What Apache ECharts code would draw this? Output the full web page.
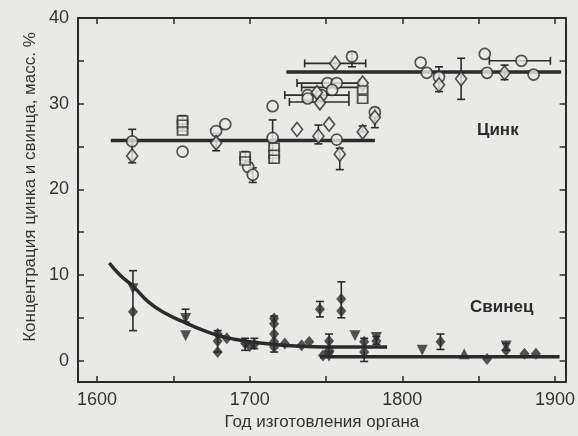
<!DOCTYPE html>
<html><head><meta charset="utf-8">
<script src="https://cdn.jsdelivr.net/npm/echarts@6/dist/echarts.min.js"></script>
<style>html,body{margin:0;padding:0;background:#e9e9e7;}#c{width:578px;height:436px;}</style>
</head><body><div id="c"></div>
<script>
// ---- tick labels ----
const xTickLabels = [1600, 1700, 1800, 1900];
const xTicks = [1600, 1650, 1700, 1750, 1800, 1850, 1900];
const yTickLabels = [0, 10, 20, 30, 40];
const yTicks = [0, 5, 10, 15, 20, 25, 30, 35, 40];

// ---- Zinc (Цинк), open markers ----
const zincCircles = [[1623,25.6],[1656,24.4],[1678,26.8],[1684,27.6],[1699,22.6],[1702,21.7],[1715,29.7],[1715,26.0],
  [1738,31.0],[1751,32.4],[1757,32.4],[1767,35.5],[1754,31.6],[1747,31.0],[1757,25.8],[1782,29.0],
  [1812,34.8],[1816,33.6],[1824,33.1],[1854,35.8],[1855.5,33.6],[1878,35.0],[1886,33.4],[1738,30.6]];
const zincDiamonds = [[1623,23.9],[1678,25.4],[1731,27.0],[1756,34.7],[1746,30.1],[1774,32.4],[1782,28.4],[1745,26.2],
  [1752,27.6],[1759,24.1],[1774,26.7],[1824,32.2],[1838.5,32.9],[1867,33.6],[1744,31.3]];
const zincSquares = [[1656,28.1],[1656,27.6],[1656,26.8],[1697,23.9],[1697,23.3],[1716,24.9],[1716,24.1],[1716,23.5],[1774,30.5],[1774,31.6]];
// vertical error bars: [x, low, high]
const zincErrY = [[1623,23.1,27.0],[1678,24.5,26.5],[1715,23.1,28.1],[1767,34.3,36.0],[1745,25.3,27.5],[1759,22.3,24.8],
  [1774,26.7,27.4],[1824,31.4,34.3],[1838.5,30.5,35.3],[1867,32.8,34.5],[1782,27.2,29.5],[1702,20.8,22.5],[1697,23.0,24.4],[1656,26.8,28.6]];
// horizontal error bars: [y, low, high]
const zincErrX = [[32.4,1731,1772],[31.9,1734,1774],[31.0,1723,1765],[30.2,1726,1765],[34.7,1736,1776],[35.0,1857,1897]];
// mean lines
const zincLineEarly = [[1609,25.7],[1782,25.7]];
const zincLineLate = [[1724,33.7],[1904,33.7]];

// ---- Lead (Свинец), filled markers ----
const leadDiamonds = [[1623.5,5.7],[1685,2.6],[1679,1.0],[1679,2.3],[1679,3.1],[1697,2.0],[1700,1.7],[1703,1.9],
  [1716,4.9],[1716,4.3],[1716,3.1],[1716,2.2],[1716,1.6],[1723,2.0],[1734,1.8],[1739,2.2],[1746,6.0],
  [1760,7.2],[1760,5.8],[1752,2.3],[1752,1.2],[1748,0.6],[1775,2.2],[1775,1.0],[1783,2.3],[1825,2.2],
  [1855.5,0.2],[1868,1.2],[1880,0.8],[1887.5,0.8]];
const leadTrianglesDown = [[1623.5,8.4],[1658,4.9],[1658,2.9],[1769,2.9],[1813,1.2],[1868,1.7],[1752,0.5],[1783,2.7]];
const leadTrianglesUp = [[1840.5,0.8]];
const leadErrY = [[1623.5,3.5,10.5],[1658,4.5,6.0],[1679,1.0,3.5],[1697,1.2,2.6],[1703,1.4,2.6],[1716,1.0,5.2],
  [1746,5.1,6.9],[1760,5.0,9.2],[1752,0.5,3.1],[1775,-0.1,2.6],[1783,1.9,2.8],[1825,1.3,3.1],[1868,1.2,2.0]];
// fitted decay curve and late mean line
const leadCurve = [[1608,11.4],[1615,10.0],[1624,8.6],[1634,6.8],[1645,5.5],[1658,4.4],[1670,3.5],[1680,2.9],
  [1690,2.5],[1700,2.2],[1715,1.9],[1730,1.7],[1750,1.6],[1770,1.6],[1790,1.6]];
const leadLineLate = [[1746,0.45],[1903,0.45]];

const INK = '#2b2b2b';
const BG = '#e9e9e7';

function errYRender(params, api) {
  const x = api.value(0), lo = api.value(1), hi = api.value(2);
  const a = api.coord([x, lo]), b = api.coord([x, hi]);
  const w = 4;
  const st = {stroke: INK, lineWidth: 1.6};
  return {type:'group', children:[
    {type:'line', shape:{x1:a[0],y1:a[1],x2:b[0],y2:b[1]}, style:st},
    {type:'line', shape:{x1:a[0]-w,y1:a[1],x2:a[0]+w,y2:a[1]}, style:st},
    {type:'line', shape:{x1:b[0]-w,y1:b[1],x2:b[0]+w,y2:b[1]}, style:st}
  ]};
}
function errXRender(params, api) {
  const y = api.value(0), lo = api.value(1), hi = api.value(2);
  const a = api.coord([lo, y]), b = api.coord([hi, y]);
  const w = 4;
  const st = {stroke: INK, lineWidth: 1.6};
  return {type:'group', children:[
    {type:'line', shape:{x1:a[0],y1:a[1],x2:b[0],y2:b[1]}, style:st},
    {type:'line', shape:{x1:a[0],y1:a[1]-w,x2:a[0],y2:a[1]+w}, style:st},
    {type:'line', shape:{x1:b[0],y1:b[1]-w,x2:b[0],y2:b[1]+w}, style:st}
  ]};
}

const lineSeries = (data, smooth) => ({type:'line', data, smooth: !!smooth, showSymbol:false, symbol:'none',
  lineStyle:{color:INK, width:3.5}, z:3, silent:true});
const openScatter = (data, symbol, size) => ({type:'scatter', data, symbol, symbolSize:size,
  itemStyle:{color:BG, borderColor:INK, borderWidth:1.7}, z:5});
const fillScatter = (data, symbol, size, rot) => ({type:'scatter', data, symbol, symbolSize:size, symbolRotate: rot||0,
  itemStyle:{color:INK}, z:5});

const axisFont = {fontFamily:'Liberation Sans, Arial, sans-serif', fontSize:18, color:'#333', formatter: v => String(v)};

const chart = echarts.init(document.getElementById('c'), null, {renderer:'canvas'});
chart.setOption({
  backgroundColor: BG,
  animation:false,
  grid:{left:78, right:11, top:18, bottom:53, containLabel:false},
  xAxis:[
    {type:'value', min:1587.5, max:1907, position:'bottom',
     axisLine:{show:true, onZero:false, lineStyle:{color:INK, width:2}},
     axisTick:{show:true, inside:true, length:6, customValues:xTicks, lineStyle:{color:INK, width:1.5}},
     axisLabel:{customValues:xTickLabels, margin:9, ...axisFont},
     splitLine:{show:false},
     name:'Год изготовления органа', nameLocation:'middle', nameGap:32,
     nameTextStyle:{fontFamily:'Liberation Sans, Arial, sans-serif', fontSize:17, color:'#333'}},
    {type:'value', min:1587.5, max:1907, position:'top',
     axisLine:{show:true, onZero:false, lineStyle:{color:INK, width:2}},
     axisTick:{show:true, inside:true, length:6, customValues:xTicks, lineStyle:{color:INK, width:1.5}},
     axisLabel:{show:false}, splitLine:{show:false}}
  ],
  yAxis:[
    {type:'value', min:-2.5, max:40, position:'left',
     axisLine:{show:true, onZero:false, lineStyle:{color:INK, width:2}},
     axisTick:{show:true, inside:true, length:6, customValues:yTicks, lineStyle:{color:INK, width:1.5}},
     axisLabel:{customValues:yTickLabels, margin:9, ...axisFont},
     splitLine:{show:false}},
    {type:'value', min:-2.5, max:40, position:'right',
     axisLine:{show:true, onZero:false, lineStyle:{color:INK, width:2}},
     axisTick:{show:true, inside:true, length:6, customValues:yTicks, lineStyle:{color:INK, width:1.5}},
     axisLabel:{show:false}, splitLine:{show:false}}
  ],
  graphic:[
    {type:'text', x:30, y:187, rotation:Math.PI/2, style:{text:'Концентрация цинка и свинца, масс. %',
      font:'17px "Liberation Sans", Arial, sans-serif', fill:'#333', align:'center', verticalAlign:'middle'}},
    {type:'text', x:477, y:130, style:{text:'Цинк', font:'bold 17px "Liberation Sans", Arial, sans-serif',
      fill:INK, align:'left', verticalAlign:'middle'}},
    {type:'text', x:470, y:307, style:{text:'Свинец', font:'bold 17px "Liberation Sans", Arial, sans-serif',
      fill:INK, align:'left', verticalAlign:'middle'}}
  ],
  series:[
    lineSeries(zincLineEarly), lineSeries(zincLineLate),
    lineSeries(leadCurve, 0.5), lineSeries(leadLineLate),
    {type:'custom', renderItem:errYRender, data:zincErrY, z:4, silent:true},
    {type:'custom', renderItem:errXRender, data:zincErrX, z:4, silent:true},
    {type:'custom', renderItem:errYRender, data:leadErrY, z:4, silent:true},
    openScatter(zincCircles, 'circle', 11),
    openScatter(zincDiamonds, 'diamond', [11,14]),
    openScatter(zincSquares, 'rect', [10,8]),
    fillScatter(leadDiamonds, 'diamond', [10,12]),
    fillScatter(leadTrianglesDown, 'triangle', 11, 180),
    fillScatter(leadTrianglesUp, 'triangle', 11, 0)
  ]
});
</script></body></html>
